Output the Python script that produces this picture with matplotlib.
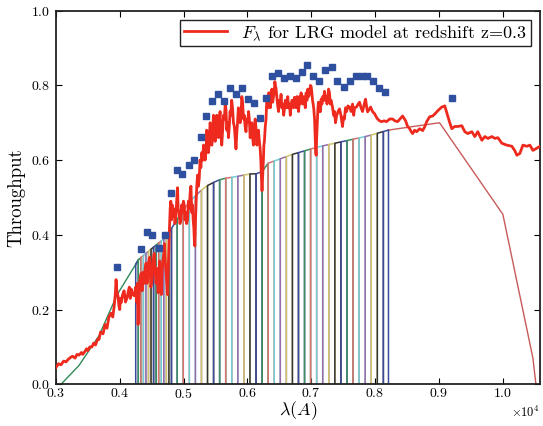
import numpy as np
import matplotlib
matplotlib.use("Agg")
import matplotlib.pyplot as plt

plt.rcParams['font.family'] = ['cmr10', 'DejaVu Serif']
plt.rcParams['mathtext.fontset'] = 'cm'
plt.rcParams['axes.formatter.use_mathtext'] = True
plt.rcParams['axes.unicode_minus'] = False

# ---------------- data ----------------
# LRG model spectrum F_lambda at z=0.3 (wavelength in Angstrom, normalised flux)
spec_wave = [3000, 3040, 3080, 3120, 3160, 3188, 3230, 3260, 3300, 3330, 3361, 3400, 3420, 3455, 3480,
             3500, 3530, 3565, 3590, 3620, 3650, 3675, 3700, 3738, 3770, 3800, 3830, 3864, 3890, 3910,
             3930, 3942, 3955, 3973, 3987, 4000, 4010, 4020, 4045, 4068, 4090, 4115, 4135, 4150, 4165,
             4178, 4200, 4225, 4240,
             4250, 4265, 4275, 4287, 4300, 4315, 4335, 4350, 4365, 4382, 4398, 4413, 4427, 4440, 4455,
             4470, 4487, 4507, 4522, 4539, 4555, 4570, 4585, 4601, 4612, 4625, 4638, 4650, 4662, 4675,
             4688, 4700, 4712, 4725, 4737, 4748, 4762,
             4775, 4790, 4800, 4812, 4822, 4835, 4845, 4853, 4865, 4880, 4892, 4905, 4915, 4930, 4943,
             4958, 4970, 4985, 4997, 5010, 5022, 5035, 5048, 5062, 5075, 5090, 5102, 5115, 5128, 5140,
             5150, 5160, 5170, 5177, 5187, 5195, 5207, 5219, 5232, 5245, 5258, 5271, 5285, 5300, 5312,
             5324, 5337, 5350, 5363, 5376, 5388, 5400, 5415, 5429, 5442, 5455, 5468, 5481, 5494, 5507,
             5520, 5535, 5547, 5559, 5572, 5585, 5598, 5612, 5626, 5640, 5652, 5664, 5677, 5690, 5703,
             5716, 5728, 5740, 5754, 5768, 5781, 5795, 5808, 5821, 5833, 5845, 5858, 5873, 5886, 5900,
             5912, 5925, 5938, 5950, 5964, 5978, 5990, 6005, 6018, 6030, 6043, 6055, 6068, 6082, 6095,
             6110, 6122, 6135, 6148, 6160, 6173, 6187, 6200, 6210, 6220, 6229, 6240, 6250, 6258, 6266,
             6280, 6292, 6305, 6320, 6332, 6344, 6357, 6370, 6383, 6396, 6408, 6420, 6430, 6438, 6450,
             6460, 6475, 6488, 6500, 6513, 6527, 6541, 6555, 6568, 6580, 6593, 6605, 6618, 6632, 6645,
             6660, 6672, 6684, 6697, 6710, 6723, 6737, 6750, 6765, 6777, 6789, 6802, 6815, 6828, 6841,
             6855, 6870, 6882, 6894, 6907, 6920, 6933, 6946, 6960, 6975, 6987, 6999, 7010, 7020, 7030,
             7040, 7052, 7062, 7070, 7077, 7085, 7095, 7105, 7113, 7124, 7135, 7145, 7155, 7168, 7180,
             7194, 7208, 7221, 7235, 7247, 7259, 7272, 7286, 7298, 7310,
             7333, 7350, 7365, 7380, 7396, 7420, 7443, 7465, 7490, 7505, 7520, 7537, 7553, 7575,
             7600, 7625, 7647, 7665, 7680, 7710, 7735, 7757, 7780, 7804, 7830, 7851, 7870, 7883, 7905,
             7930, 7960, 7993, 8020, 8040, 8071, 8103, 8140, 8181, 8230, 8275, 8310, 8354, 8400, 8432,
             8479, 8510, 8542, 8570, 8589, 8620, 8652, 8699, 8746, 8780, 8809, 8856, 8903, 8945, 8982,
             9045, 9092, 9139, 9170, 9202, 9249, 9296, 9359, 9406, 9453, 9516, 9563, 9610, 9673,
             9720, 9767, 9830, 9877, 9924, 9987, 10065, 10144, 10190, 10222, 10269, 10316, 10379,
             10426, 10473, 10536, 10583]
spec_flux = [0.045, 0.055, 0.052, 0.062, 0.060, 0.066, 0.072, 0.075, 0.070, 0.080, 0.078, 0.085, 0.080, 0.088, 0.095,
             0.090, 0.100, 0.100, 0.110, 0.105, 0.120, 0.120, 0.140, 0.135, 0.160, 0.150, 0.180, 0.190, 0.180, 0.205,
             0.240, 0.280, 0.250, 0.235, 0.210, 0.200, 0.230, 0.218, 0.240, 0.250, 0.220, 0.232, 0.250, 0.260, 0.230,
             0.255, 0.240, 0.237, 0.250,
             0.260, 0.220, 0.270, 0.160, 0.240, 0.280, 0.297, 0.250, 0.300, 0.270, 0.310, 0.324, 0.270, 0.290, 0.330,
             0.340, 0.260, 0.280, 0.330, 0.350, 0.300, 0.270, 0.310, 0.245, 0.280, 0.330, 0.290, 0.240, 0.300, 0.330,
             0.350, 0.376, 0.330, 0.300, 0.270, 0.240, 0.320,
             0.400, 0.470, 0.490, 0.440, 0.480, 0.450, 0.470, 0.466, 0.430, 0.450, 0.490, 0.526, 0.470, 0.460, 0.430,
             0.440, 0.480, 0.460, 0.490, 0.480, 0.440, 0.460, 0.430, 0.440, 0.490, 0.470, 0.510, 0.530, 0.460, 0.480,
             0.440, 0.420, 0.380, 0.370, 0.440, 0.480, 0.530, 0.560, 0.530, 0.550, 0.600, 0.580, 0.620, 0.600, 0.640,
             0.630, 0.600, 0.620, 0.680, 0.660, 0.620, 0.640, 0.700, 0.690, 0.640, 0.670, 0.720, 0.710, 0.650, 0.666,
             0.720, 0.700, 0.660, 0.710, 0.730, 0.670, 0.640, 0.680, 0.720, 0.710, 0.750, 0.737, 0.680, 0.700, 0.660,
             0.690, 0.730, 0.720, 0.760, 0.737, 0.700, 0.690, 0.660, 0.630, 0.670, 0.700, 0.740, 0.730, 0.700, 0.720,
             0.770, 0.755, 0.710, 0.720, 0.690, 0.676, 0.710, 0.700, 0.730, 0.710, 0.660, 0.680, 0.700, 0.660, 0.640,
             0.690, 0.710, 0.684, 0.640, 0.660, 0.680, 0.650, 0.630, 0.600, 0.550, 0.518, 0.560, 0.600, 0.640, 0.650,
             0.690, 0.710, 0.770, 0.740, 0.780, 0.780, 0.740, 0.760, 0.790, 0.755, 0.770, 0.780, 0.810, 0.800, 0.790,
             0.770, 0.745, 0.730, 0.760, 0.750, 0.776, 0.740, 0.750, 0.720, 0.737, 0.760, 0.750, 0.740, 0.770, 0.740,
             0.750, 0.720, 0.745, 0.760, 0.760, 0.740, 0.768, 0.750, 0.740, 0.770, 0.750, 0.730, 0.770, 0.750, 0.780,
             0.760, 0.750, 0.770, 0.760, 0.740, 0.780, 0.760, 0.790, 0.770, 0.780, 0.800, 0.797, 0.780, 0.760, 0.750,
             0.737, 0.710, 0.660, 0.620, 0.613, 0.660, 0.700, 0.740, 0.755, 0.730, 0.750, 0.730, 0.763, 0.750, 0.770,
             0.760, 0.784, 0.760, 0.770, 0.750, 0.770, 0.790, 0.780, 0.750, 0.760,
             0.742, 0.720, 0.730, 0.700, 0.718, 0.730, 0.737, 0.720, 0.690, 0.715, 0.710, 0.740, 0.730, 0.745,
             0.742, 0.730, 0.750, 0.720, 0.740, 0.742, 0.750, 0.755, 0.740, 0.730, 0.750, 0.763, 0.740, 0.729, 0.735,
             0.742, 0.730, 0.724, 0.715, 0.710, 0.705, 0.703, 0.705, 0.703, 0.710, 0.710, 0.705, 0.703, 0.712, 0.718,
             0.705, 0.690, 0.684, 0.675, 0.671, 0.680, 0.676, 0.684, 0.679, 0.690, 0.703, 0.716, 0.718, 0.725, 0.732,
             0.742, 0.745, 0.718, 0.700, 0.684, 0.690, 0.690, 0.692, 0.676, 0.671, 0.676, 0.663, 0.676, 0.653,
             0.663, 0.658, 0.663, 0.658, 0.660, 0.645, 0.640, 0.637, 0.625, 0.613, 0.618, 0.640, 0.637,
             0.640, 0.626, 0.632, 0.637]

# synthetic photometry points (blue squares)
phot_wave = [3958, 4335, 4429, 4507, 4617, 4711, 4806, 4900, 4978, 5088, 5167, 5277, 5355, 5449,
             5543, 5638, 5732, 5826, 5920, 6014, 6109, 6203, 6297, 6391, 6485, 6580, 6674, 6768,
             6862, 6941, 7035, 7129, 7223, 7318, 7396, 7506, 7600, 7694, 7789, 7867, 7961, 8055,
             8150, 9202]
phot_flux = [0.313, 0.361, 0.408, 0.40, 0.366, 0.40, 0.513, 0.574, 0.563, 0.587, 0.60, 0.661, 0.718, 0.758,
             0.776, 0.758, 0.792, 0.776, 0.792, 0.763, 0.753, 0.713, 0.766, 0.826, 0.832, 0.821, 0.824, 0.821,
             0.837, 0.855, 0.824, 0.811, 0.842, 0.85, 0.813, 0.795, 0.811, 0.824, 0.824, 0.824, 0.811, 0.792,
             0.782, 0.766]

# total system throughput envelope
thr_wave = [3080, 3360, 3675, 3960, 4300, 4730, 4930, 5100, 5245, 5400, 5600, 5800, 6100, 6200,
            6300, 6700, 7100, 7500, 7900, 8200, 8600, 9010, 10002, 10473, 10520]
thr_val = [0.0, 0.05, 0.13, 0.24, 0.335, 0.395, 0.45, 0.49, 0.515, 0.535, 0.55, 0.555, 0.565, 0.56,
           0.59, 0.615, 0.635, 0.65, 0.665, 0.68, 0.69, 0.70, 0.455, 0.07, 0.0]

# narrow-band filter edges (Angstrom)
filter_edges = [4250, 4290, 4330, 4370, 4410, 4450, 4490, 4530, 4570, 4610, 4650, 4690, 4730, 4770,
                4810, 4900, 4995, 5090, 5185, 5280, 5375, 5470, 5565, 5660, 5755, 5850, 5945, 6040,
                6135, 6230, 6325, 6420, 6515, 6610, 6705, 6800, 6895, 6990, 7085, 7180, 7275, 7370,
                7465, 7560, 7655, 7750, 7845, 7940, 8035, 8130, 8210]

filter_colors = ['#3b4a9a', '#3c8f5e', '#d9726f', '#6fcfd6', '#9a6aa8', '#cfc56a', '#333333']

# ---------------- plot ----------------
fig = plt.figure(figsize=(5.43, 4.26), dpi=100)
ax = fig.add_axes([0.103, 0.098, 0.891, 0.877])

tw = np.array(thr_wave, float)
tv = np.array(thr_val, float)
fe = np.array(filter_edges, float)

# envelope: blue end (green) and red end
lo = tw <= fe[0] + 60
ax.plot(np.append(tw[lo], fe[0]), np.append(tv[lo], np.interp(fe[0], tw, tv)),
        color='#2e8b57', lw=1.0, zorder=2)
hi = tw >= fe[-1] - 20
ax.plot(np.insert(tw[hi], 0, fe[-1]), np.insert(tv[hi], 0, np.interp(fe[-1], tw, tv)),
        color='#c85a5a', lw=1.0, zorder=2)

for i in range(len(fe) - 1):
    l, r = fe[i], fe[i + 1]
    tl, tr = np.interp(l, tw, tv), np.interp(r, tw, tv)
    ax.plot([l, l, r, r], [0, tl, tr, 0], color=filter_colors[i % len(filter_colors)],
            lw=1.1, zorder=2)

ax.plot(spec_wave, spec_flux, color='#ee2a1e', lw=2.0, zorder=4,
        label=r'$F_\lambda$ for LRG model at redshift z=0.3')
ax.plot(phot_wave, phot_flux, 's', color='#2f4f9f', ms=5, mec='#2f4f9f', zorder=5)

ax.set_xlim(3000, 10580)
ax.set_ylim(0, 1.0)
ax.set_xticks([3000, 4000, 5000, 6000, 7000, 8000, 9000, 10000])
ax.set_yticks([0.0, 0.2, 0.4, 0.6, 0.8, 1.0])
ax.ticklabel_format(axis='x', style='sci', scilimits=(4, 4), useMathText=True)
ax.tick_params(direction='in', top=True, right=True, labelsize=10, length=4, width=0.8)
ax.tick_params(axis='x', pad=2)
ax.tick_params(axis='y', pad=4)
ax.xaxis.get_offset_text().set_fontsize(9)
for s in ax.spines.values():
    s.set_linewidth(1.3)
    s.set_color('#222222')

ax.set_xlabel(r'$\lambda(A)$', fontsize=13, labelpad=-1)
ax.set_ylabel('Throughput', fontsize=13.5, labelpad=4)

leg = ax.legend(loc='upper right', fontsize=13, fancybox=False, framealpha=1,
                edgecolor='#222222', borderpad=0.2, handlelength=2.4, borderaxespad=0.5)
leg.get_frame().set_linewidth(1.0)

fig.savefig('out.png', dpi=100)
